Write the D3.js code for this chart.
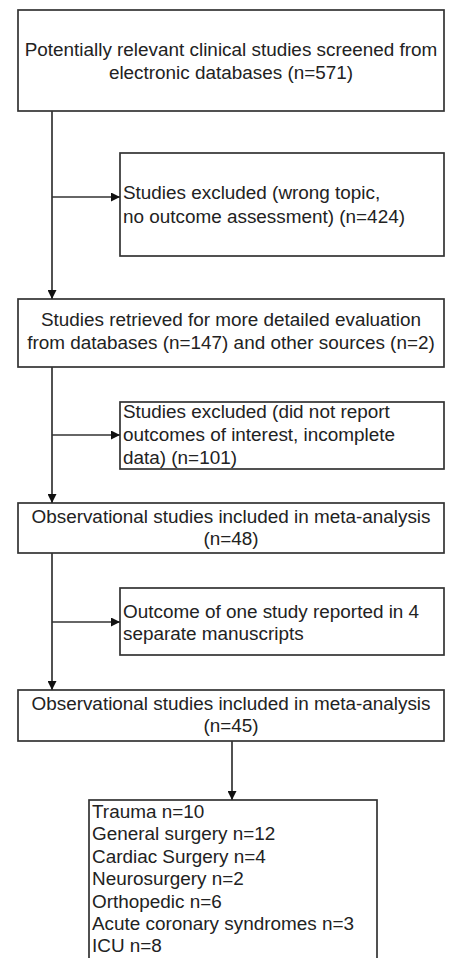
<!DOCTYPE html>
<html><head><meta charset="utf-8">
<script src="https://cdn.jsdelivr.net/npm/d3@7"></script>
<style>html,body{margin:0;padding:0;background:#fff;}</style>
</head><body>
<script>
// Data: box texts (lines)
const boxIds = ["screened","excl1","retrieved","excl2","incl48","dup","incl45","breakdown"];
const boxLines = [
  ["Potentially relevant clinical studies screened from","electronic databases (n=571)"],
  ["Studies excluded (wrong topic,","no outcome assessment) (n=424)"],
  ["Studies retrieved for more detailed evaluation","from databases (n=147) and other sources (n=2)"],
  ["Studies excluded (did not report","outcomes of interest, incomplete","data) (n=101)"],
  ["Observational studies included in meta-analysis","(n=48)"],
  ["Outcome of one study reported in 4","separate manuscripts"],
  ["Observational studies included in meta-analysis","(n=45)"],
  ["Trauma n=10","General surgery n=12","Cardiac Surgery n=4","Neurosurgery n=2","Orthopedic n=6","Acute coronary syndromes n=3","ICU n=8"]
];

// Layout (positions, sizes, styles)
const layout = {
  screened:  {x:18, y:10,  w:426, h:101, align:"middle", y0:56,  dy:22.5},
  excl1:     {x:120,y:153, w:324, h:103, align:"start",  y0:199, dy:24},
  retrieved: {x:18, y:299, w:426, h:68,  align:"middle", y0:326, dy:23},
  excl2:     {x:120,y:402, w:324, h:67,  align:"start",  y0:418, dy:23},
  incl48:    {x:18, y:503, w:426, h:50,  align:"middle", y0:523, dy:22},
  dup:       {x:120,y:588, w:324, h:67,  align:"start",  y0:618, dy:22},
  incl45:    {x:18, y:690, w:426, h:51,  align:"middle", y0:710, dy:22},
  breakdown: {x:89, y:800, w:288, h:170, align:"start",  y0:818, dy:22.4}
};
const W = 451, H = 958;
const stroke = "#333", textColor = "#222";

const svg = d3.select("body").append("svg").attr("width",W).attr("height",H);
const defs = svg.append("defs");
defs.append("marker").attr("id","arr").attr("viewBox","0 0 10 10")
  .attr("refX",10).attr("refY",5).attr("markerWidth",9).attr("markerHeight",9)
  .attr("markerUnits","userSpaceOnUse").attr("orient","auto")
  .append("path").attr("d","M0,0L10,5L0,10Z").attr("fill","#111");

const boxes = boxIds.map((id,i)=>({id, lines:boxLines[i], ...layout[id]}));

const g = svg.selectAll("g.box").data(boxes).join("g").attr("class","box");
g.append("rect")
  .attr("x",d=>d.x).attr("y",d=>d.y).attr("width",d=>d.w).attr("height",d=>d.h)
  .attr("fill","#fff").attr("stroke",stroke).attr("stroke-width",1.7);
g.each(function(d){
  const t = d3.select(this).append("text")
    .attr("font-family","'Liberation Sans', Arial, sans-serif")
    .attr("font-size",18.9).attr("fill",textColor)
    .attr("text-anchor",d.align);
  t.selectAll("tspan").data(d.lines).join("tspan")
    .attr("x", d.align==="middle" ? d.x + d.w/2 : d.x + 3)
    .attr("y",(l,i)=>d.y0 + i*d.dy)
    .text(l=>l);
});

const B = Object.fromEntries(boxes.map(b=>[b.id,b]));
const spineX = 52;
const links = [
  {from:"screened", to:"retrieved", branch:"excl1", by:197},
  {from:"retrieved", to:"incl48", branch:"excl2", by:435},
  {from:"incl48", to:"incl45", branch:"dup", by:622}
];
const lg = svg.append("g").attr("stroke",stroke).attr("stroke-width",1.7).attr("fill","none");
links.forEach(l=>{
  lg.append("line").attr("x1",spineX).attr("y1",B[l.from].y+B[l.from].h)
    .attr("x2",spineX).attr("y2",B[l.to].y).attr("marker-end","url(#arr)");
  lg.append("line").attr("x1",spineX).attr("y1",l.by)
    .attr("x2",B[l.branch].x).attr("y2",l.by).attr("marker-end","url(#arr)");
});
const cx = 232;
lg.append("line").attr("x1",cx).attr("y1",B.incl45.y+B.incl45.h)
  .attr("x2",cx).attr("y2",B.breakdown.y).attr("marker-end","url(#arr)");
</script>
</body></html>
